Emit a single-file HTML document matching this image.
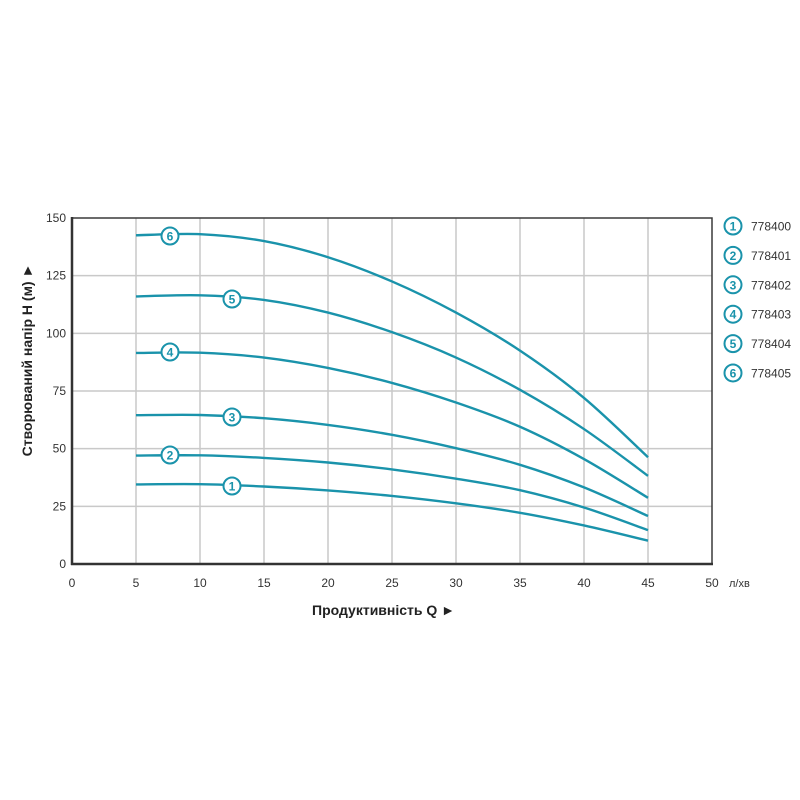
<!DOCTYPE html>
<html><head><meta charset="utf-8"><style>
body{margin:0;background:#fff;}
svg{display:block;font-family:"Liberation Sans",sans-serif;}
</style></head><body>
<svg id="s" width="800" height="800" xmlns="http://www.w3.org/2000/svg">
<rect width="800" height="800" fill="#fff"/>
<g id="grid" stroke="#c9c9c9" stroke-width="1.5"></g>
<rect x="72" y="218" width="640" height="346" fill="none" stroke="#3a3a3a" stroke-width="1.5"/>
<line x1="72" y1="217" x2="72" y2="565" stroke="#333" stroke-width="2.5"/>
<line x1="71" y1="564" x2="713" y2="564" stroke="#333" stroke-width="2.5"/>
<g id="ticks" font-size="12" fill="#333"></g>
<text x="729" y="587" font-size="11" fill="#333">л/хв</text>
<text x="312" y="615" font-size="14" font-weight="bold" fill="#222">Продуктивність  Q ►</text>
<text transform="translate(32,360) rotate(-90)" text-anchor="middle" font-size="14" font-weight="bold" fill="#222">Створюваний напір H (м) ►</text>
<g id="curves" fill="none" stroke="#1a93ab" stroke-width="2.4"></g>
<g id="labels"></g>
<g id="legend" font-size="12" fill="#333"></g>
</svg>
<script>
const NS="http://www.w3.org/2000/svg";
const X=q=>72+q*12.8, Y=v=>564-v*346/150;
function el(p,t,a,txt){const e=document.createElementNS(NS,t);for(const k in a)e.setAttribute(k,a[k]);if(txt!==undefined)e.textContent=txt;document.getElementById(p).appendChild(e);return e;}
for(let q=5;q<50;q+=5)el("grid","line",{x1:X(q),y1:218,x2:X(q),y2:564});
for(let v=25;v<150;v+=25)el("grid","line",{x1:72,y1:Y(v),x2:712,y2:Y(v)});
for(let v=0;v<=150;v+=25)el("ticks","text",{x:66,y:Y(v)+4,"text-anchor":"end"},v);
for(let q=0;q<=50;q+=5)el("ticks","text",{x:X(q),y:587,"text-anchor":"middle"},q);
const qs=[5,10,15,20,25,30,35,40,45];
const data=[
[34.5,34.6,33.6,31.9,29.5,26.3,22.2,16.7,10.1],
[47,47.1,46,44,41,37,32,24.5,14.7],
[64.5,64.6,63.2,60.3,56,50.2,43,33.2,20.8],
[91.5,91.6,89.5,85,78.5,70,59.5,45.5,28.7],
[116,116.5,114.5,109,100.5,89.5,75.5,58.5,38.2],
[142.5,143,140,133,122.5,109,92.5,72,46.3]];
data.forEach(d=>{
 const p=qs.map((q,i)=>[X(q),Y(d[i])]);
 let s=`M${p[0][0]},${p[0][1]}`;
 for(let i=0;i<p.length-1;i++){
  const p0=p[Math.max(0,i-1)],p1=p[i],p2=p[i+1],p3=p[Math.min(p.length-1,i+2)];
  const c1=[p1[0]+(p2[0]-p0[0])/6,p1[1]+(p2[1]-p0[1])/6];
  const c2=[p2[0]-(p3[0]-p1[0])/6,p2[1]-(p3[1]-p1[1])/6];
  s+=` C${c1[0]},${c1[1]} ${c2[0]},${c2[1]} ${p2[0]},${p2[1]}`;
 }
 el("curves","path",{d:s});
});
const lab=[[232,486],[170,455],[232,417],[170,352],[232,299],[170,236]];
lab.forEach((l,i)=>{
 el("labels","circle",{cx:l[0],cy:l[1],r:8.5,fill:"#fff",stroke:"#1a93ab","stroke-width":2});
 el("labels","text",{x:l[0],y:l[1]+4.5,"text-anchor":"middle","font-size":12,"font-weight":"bold",fill:"#1a93ab"},i+1);
});
for(let i=0;i<6;i++){
 const y=226+i*29.4;
 el("legend","circle",{cx:733,cy:y,r:8.5,fill:"#fff",stroke:"#1a93ab","stroke-width":2});
 el("legend","text",{x:733,y:y+4.5,"text-anchor":"middle","font-size":12,"font-weight":"bold",fill:"#1a93ab"},i+1);
 el("legend","text",{x:751,y:y+4.5},"77840"+i);
}
</script>
</body></html>
